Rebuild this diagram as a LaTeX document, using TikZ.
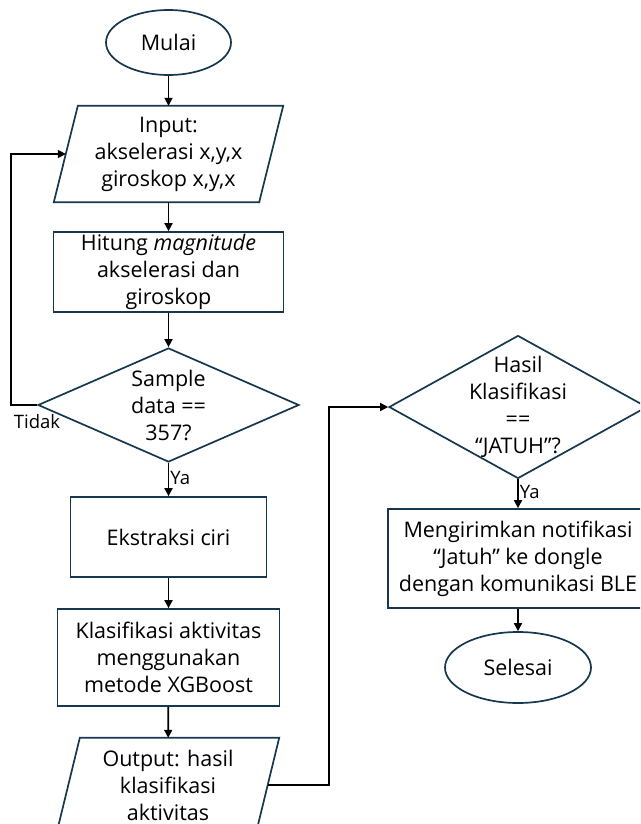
\documentclass[tikz,border=0pt]{standalone}
\usepackage{fontspec}
\setmainfont{Open Sans}
\usetikzlibrary{shapes.geometric,arrows.meta,calc}
\definecolor{edge}{HTML}{16384C}
\begin{document}
\begin{tikzpicture}[x=1pt,y=-1pt,
  font=\fontsize{21.5}{27}\selectfont,
  outline/.style={draw=edge, line width=1.7pt},
  term/.style={ellipse, outline, inner sep=0pt},
  proc/.style={rectangle, outline, align=center, inner sep=0pt},
  ioframe/.style={rectangle, align=center, inner sep=0pt},
  choice/.style={diamond, outline, inner sep=0pt},
  flow/.style={line width=1.7pt, black, -{Triangle[length=8pt,width=8pt]}},
  tag/.style={font=\fontsize{18.5}{22}\selectfont, inner sep=1pt}]
\clip (0,0) rectangle (640,824);

% left column
\node[term, minimum width=125pt, minimum height=65pt] (start) at (168.5,42.5) {Mulai};
\node[ioframe, minimum width=205pt, minimum height=96pt] (in) at (168.5,154) {Input:\\akselerasi x,y,x\\giroskop x,y,x};
\draw[outline] ($(in.north west)+(12,0)$) -- ($(in.north east)+(12,0)$)
  -- ($(in.south east)+(-12,0)$) -- ($(in.south west)+(-12,0)$) -- cycle;
\node[proc, minimum width=230pt, minimum height=80pt] (mag) at (168.5,272) {Hitung \textit{magnitude}\\akselerasi dan\\giroskop};
\node[choice, minimum width=261pt, minimum height=114pt,
  label={[align=center]center:Sample\\data ==\\357?}] (cek) at (168.5,405) {};
\node[proc, minimum width=196pt, minimum height=80pt] (fitur) at (168.5,537) {Ekstraksi ciri};
\node[proc, minimum width=222pt, minimum height=97pt] (klas) at (168.5,657.5) {Klasifikasi aktivitas\\menggunakan\\metode XGBoost};
\node[ioframe, minimum width=199pt, minimum height=94pt] (out) at (168,785) {Output: hasil\\klasifikasi\\aktivitas};
\draw[outline] ($(out.north west)+(11.5,0)$) -- ($(out.north east)+(11.5,0)$)
  -- ($(out.south east)+(-11.5,0)$) -- ($(out.south west)+(-11.5,0)$) -- cycle;

% right column
\node[choice, minimum width=258pt, minimum height=143pt,
  label={[align=center]center:Hasil\\Klasifikasi\\==\\“JATUH”?}] (jatuh) at (518,407) {};
\node[proc, minimum width=260pt, minimum height=99pt] (notif) at (518,558.5) {Mengirimkan notifikasi\\“Jatuh” ke dongle\\dengan komunikasi BLE};
\node[term, minimum width=146pt, minimum height=71pt] (stop) at (518,667.5) {Selesai};

% connectors
\draw[flow] (start) -- (in);
\draw[flow] (in) -- (mag);
\draw[flow] (mag) -- (cek);
\draw[flow] (cek) -- node[tag, right, pos=0.45] {Ya} (fitur);
\draw[flow] (fitur) -- (klas);
\draw[flow] (klas) -- (out);
\draw[flow] (cek.west) -- ++(-26,0) coordinate (back) |- (in.west);
\node[tag, anchor=north] (tidak) at (37,413) {Tidak};
\draw[flow] (out.east) -- ++(61,0) |- (jatuh.west);
\draw[flow] (jatuh) -- node[tag, right, pos=0.45] {Ya} (notif);
\draw[flow] (notif) -- (stop);
\end{tikzpicture}
\end{document}
